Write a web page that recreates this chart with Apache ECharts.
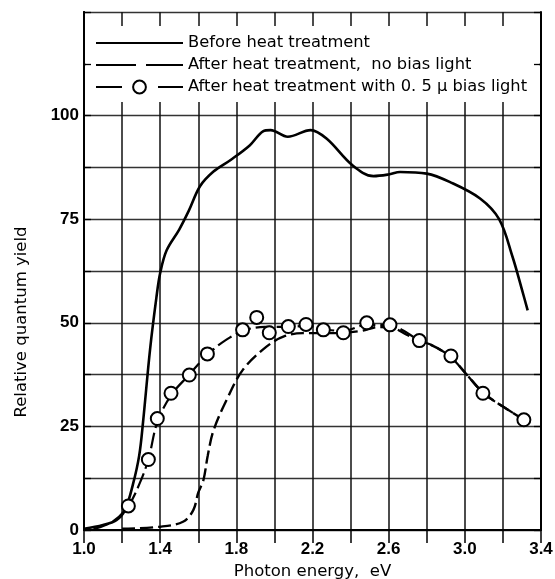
<!DOCTYPE html>
<html><head><meta charset="utf-8">
<script src="https://cdn.jsdelivr.net/npm/echarts@6/dist/echarts.min.js"></script>
<style>html,body{margin:0;padding:0;background:#fff}#c{width:555px;height:579px}</style>
</head><body><div id="c"></div>
<script>
// ---- data ----
const nameBefore = 'Before heat treatment';
const nameNoBias = 'After heat treatment,  no bias light';
const nameBias = 'After heat treatment with 0. 5 μ bias light';

const xTicks = [1.0, 1.4, 1.8, 2.2, 2.6, 3.0, 3.4];
const yTicks = [0, 25, 50, 75, 100];

const beforeData = [[1.0,0.3],[1.1,1.2],[1.17,2.4],[1.215,4.8],[1.257,11],[1.29,18],[1.31,26],[1.347,43.6],[1.38,56],[1.40,62],[1.434,67.5],[1.5,72.5],[1.55,77],[1.61,83],[1.68,86.5],[1.77,89.3],[1.87,92.8],[1.94,96.2],[1.98,96.5],[2.07,94.9],[2.19,96.5],[2.275,94.4],[2.41,88],[2.52,85.4],[2.6,85.8],[2.66,86.4],[2.8,86],[2.92,84],[3.08,80],[3.18,75],[3.25,66],[3.30,58],[3.33,53]];

const noBiasData = [[1.2,0.3],[1.4,0.8],[1.52,2],[1.574,4.8],[1.6,9],[1.627,12],[1.65,18],[1.68,24],[1.75,31.5],[1.835,38.7],[1.96,44.3],[2.05,46.7],[2.15,47.5],[2.3,47.5],[2.45,48],[2.55,49],[2.62,48.8],[2.7,47],[2.817,44.8],[2.92,42],[3.01,37.5],[3.1,33],[3.2,29.8],[3.31,26.6]];

const biasFitData = [[1.05,0.2],[1.15,2],[1.233,5.8],[1.29,11],[1.338,17],[1.385,26],[1.457,32.5],[1.553,37.5],[1.648,42.3],[1.75,46],[1.85,48.3],[1.95,49],[2.07,49],[2.17,49.3],[2.26,48.5],[2.36,48],[2.485,49.5],[2.607,49.4],[2.7,47.5],[2.76,45.7],[2.817,44.8],[2.922,41.9],[3.01,37.5],[3.097,33],[3.2,29.8],[3.31,26.6]];

const biasPoints = [[1.233,5.8],[1.338,17],[1.385,26.9],[1.457,33],[1.553,37.4],[1.648,42.5],[1.833,48.3],[1.907,51.3],[1.973,47.6],[2.073,49.1],[2.166,49.6],[2.257,48.3],[2.362,47.6],[2.485,50],[2.607,49.5],[2.761,45.7],[2.927,42],[3.095,33],[3.31,26.6]];

// ---- chart ----
const SANS = "'DejaVu Sans',sans-serif";
const TICKF = "'Liberation Sans',Arial,sans-serif";
const chart = echarts.init(document.getElementById('c'), null, {renderer:'canvas'});

const xFmt = v => xTicks.some(t => Math.abs(t - v) < 1e-6) ? v.toFixed(1) : '';
const yFmt = v => yTicks.some(t => Math.abs(t - v) < 1e-6) ? String(v) : '';

const tickOnlyY = (pos) => ({type: 'value', min: 0, max: 125, interval: 12.5, position: pos, z: 10,
  axisLine: {show: true, lineStyle: {color: '#000', width: 2}},
  axisTick: {show: true, inside: true, length: 7, lineStyle: {color: '#000', width: 1.3}},
  splitLine: {show: false}, axisLabel: {show: false}});

chart.setOption({
  animation: false,
  backgroundColor: '#fff',
  grid: {left: 84, right: 14, top: 12, bottom: 49, containLabel: false, outerBoundsMode: 'none'},
  legend: {
    orient: 'vertical', left: 95, top: 35, z: 8, padding: 0,
    itemWidth: 87, itemHeight: 16, itemGap: 6,
    selectedMode: false,
    textStyle: {fontFamily: SANS, fontSize: 16.3, color: '#000', lineHeight: 16},
    data: [
      {name: nameBefore, itemStyle: {opacity: 0}},
      {name: nameNoBias, itemStyle: {opacity: 0}, lineStyle: {type: [40, 10]}},
      {name: nameBias, lineStyle: {type: [26, 36], width: 2, opacity: 1, color: '#000'}}
    ]
  },
  graphic: [
    {type: 'rect', z: 3, shape: {x: 86, y: 26, width: 453, height: 76}, style: {fill: '#fff'}},
    {type: 'text', z: 5, x: 22, y: 322, rotation: Math.PI / 2,
     style: {text: 'Relative quantum yield', font: '16.5px ' + SANS, fill: '#000',
             textAlign: 'center', textVerticalAlign: 'middle', align: 'center', verticalAlign: 'middle'}}
  ],
  xAxis: [
    {type: 'value', min: 1.0, max: 3.4, interval: 0.2, position: 'bottom',
     axisLine: {lineStyle: {color: '#000', width: 2}},
     axisTick: {show: false},
     splitLine: {show: true, lineStyle: {color: '#111', width: 1.5}},
     axisLabel: {formatter: xFmt, fontFamily: TICKF, fontSize: 17, fontWeight: 'bold', color: '#000', margin: 11},
     name: 'Photon energy,  eV', nameLocation: 'middle', nameGap: 31,
     nameTextStyle: {fontFamily: SANS, fontSize: 16.5, color: '#000'}},
    {type: 'value', min: 1.0, max: 3.4, interval: 0.2, position: 'top', z: 10,
     axisLine: {show: true, lineStyle: {color: '#000', width: 2}},
     axisTick: {show: true, inside: true, length: 13, lineStyle: {color: '#000', width: 1.5}},
     splitLine: {show: false}, axisLabel: {show: false}}
  ],
  yAxis: [
    {type: 'value', min: 0, max: 125, interval: 12.5, position: 'left',
     axisLine: {show: true, lineStyle: {color: '#000', width: 2}},
     axisTick: {show: false},
     splitLine: {show: true, lineStyle: {color: '#333', width: 1.3}},
     axisLabel: {formatter: yFmt, fontFamily: TICKF, fontSize: 17, fontWeight: 'bold', color: '#000', margin: 5}},
    tickOnlyY('right'),
    tickOnlyY('left')
  ],
  series: [
    {name: nameBefore, type: 'line', data: beforeData, smooth: 0.35, symbol: 'none',
     lineStyle: {color: '#000', width: 2.6}, itemStyle: {color: '#000'}, z: 4},
    {name: nameNoBias, type: 'line', data: noBiasData, smooth: 0.35, symbol: 'none',
     lineStyle: {color: '#000', width: 2.4, type: [13, 5]}, itemStyle: {color: '#000'}, z: 4},
    {name: 'biasFit', type: 'line', data: biasFitData, smooth: 0.35, symbol: 'none',
     lineStyle: {color: '#000', width: 2.2, type: [16, 5]}, itemStyle: {color: '#000'}, z: 4},
    {name: nameBias, type: 'line', data: biasPoints, symbol: 'circle', symbolSize: 13, showSymbol: true,
     itemStyle: {color: '#fff', borderColor: '#000', borderWidth: 2},
     lineStyle: {width: 0, opacity: 0}, z: 5}
  ]
});
</script>
</body></html>
